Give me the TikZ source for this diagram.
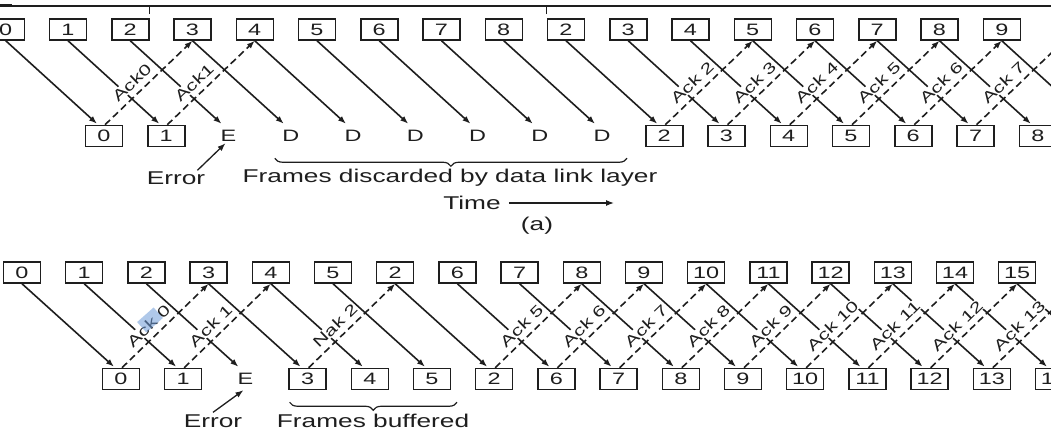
\documentclass[tikz,border=0pt]{standalone}
\usepackage{fontspec}
\setmainfont{Liberation Sans}[FakeStretch=1.42]
\usetikzlibrary{arrows.meta,calc,decorations.pathreplacing}
\definecolor{ink}{RGB}{30,30,30}
\definecolor{selblue}{RGB}{110,155,215}
\tikzset{
  slot/.style={draw=ink, line width=1.5pt, minimum width=37pt, minimum height=21pt,
    inner sep=0pt, text=ink, font=\fontsize{16.5}{19}\selectfont},
  dataarr/.style={line width=1.6pt, draw=ink, -{Latex[length=8pt,width=6pt]}},
  ackarr/.style={dataarr, dash pattern=on 7pt off 4pt},
  acklbl/.style={sloped, above=5.5pt, pos=0.40, fill=white, inner sep=0.6pt, text=ink,
    font=\fontsize{15}{17}\selectfont},
  note/.style={inner sep=0pt, text=ink, font=\fontsize{18.5}{21}\selectfont},
  bracedec/.style={line width=1.2pt, draw=ink,
    decorate, decoration={brace, mirror, amplitude=8pt}},
}
\begin{document}
\begin{tikzpicture}[x=1pt,y=-1pt]
\useasboundingbox (0,0) rectangle (1051,433);
\clip (0,0) rectangle (1051,433);

% ---------------- (a) go-back-n ----------------
\draw[line width=1.4pt, ink] (0,6) -- (1051,6);
\draw[line width=3pt, ink] (0,5.5) -- (12,5.5);
\coordinate (topline) at (0,6);

% sender frames
\foreach \l [count=\i from 0] in {0,1,2,3,4,5,6,7,8,2,3,4,5,6,7,8,9}
  \node[slot] (ta\i) at ({5.75+62.25*\i},29.5) {\l};
\node[slot, draw=none] (ta17) at ({5.75+62.25*17},29.5) {};

% receiver side
\foreach \l/\dc [count=\j from 0] in {0/ink,1/ink,E/none,D/none,D/none,D/none,D/none,D/none,D/none,2/ink,3/ink,4/ink,5/ink,6/ink,7/ink,8/ink}
  \node[slot, draw=\dc] (ba\j) at ({104+62.25*\j},136) {\l};
\node[slot, draw=none] (ba16) at ({104+62.25*16},136) {};

% timeout ticks
\draw[line width=1.4pt, ink] ($(ta2.north east)+(0,-4)$) -- (ta2.north east |- topline);
\draw[line width=1.4pt, ink] ($(ta9.north west)+(0,-4)$) -- (ta9.north west |- topline);

% frames in flight
\foreach \k in {0,...,16}
  \draw[dataarr] (ta\k.south) -- ($(ba\k.north)+(-7,-1)$);
% acknowledgements
\foreach \j/\t in {0/3,1/4,9/12,10/13,11/14,12/15,13/16,14/17}
  \draw[ackarr] ($(ba\j.north)+(1,0)$) -- (ta\t.south);
\foreach \j/\t/\lab in {0/3/Ack0,1/4/Ack1,9/12/Ack 2,10/13/Ack 3,11/14/Ack 4,12/15/Ack 5,13/16/Ack 6,14/17/Ack 7}
  \path ($(ba\j.north)+(1,0)$) -- node[acklbl] {\lab} (ta\t.south);

% annotations
\node[note] (erra) at (176,178) {Error};
\draw[dataarr, line width=1.3pt] ($(erra.north east)+(-8,-1)$) -- ($(ba2.south)+(-3,-4)$);
\draw[bracedec] ($(ba3.south)+(-16,11)$) -- ($(ba8.south)+(25,11)$);
\node[note] (disc) at (450,178) {Frames discarded by data link layer};
\node[note] (time) at (472,203) {Time};
\coordinate (timeend) at (614,203);
\draw[dataarr, line width=1.3pt] ([xshift=8pt]time.east) -- (timeend);
\node[note] (capa) at (537,226) {(a)};

% ---------------- (b) selective repeat ----------------
\foreach \l [count=\i from 0] in {0,1,2,3,4,5,2,6,7,8,9,10,11,12,13,14,15}
  \node[slot] (tb\i) at ({22+62.2*\i},272.5) {\l};
\node[slot, draw=none] (tb17) at ({22+62.2*17},272.5) {};

\foreach \l/\dc [count=\j from 0] in {0/ink,1/ink,E/none,3/ink,4/ink,5/ink,2/ink,6/ink,7/ink,8/ink,9/ink,10/ink,11/ink,12/ink,13/ink,14/ink}
  \node[slot, draw=\dc] (bb\j) at ({121+62.2*\j},379) {\l};
\node[slot, draw=none] (bb16) at ({121+62.2*16},379) {};

\foreach \k in {0,...,16}
  \draw[dataarr] (tb\k.south) -- ($(bb\k.north)+(-7,-1)$);
\foreach \j/\t in {0/3,1/4,3/6,6/9,7/10,8/11,9/12,10/13,11/14,12/15,13/16,14/17}
  \draw[ackarr] ($(bb\j.north)+(1,0)$) -- (tb\t.south);
\foreach \j/\t/\lab in {0/3/Ack 0,1/4/Ack 1,3/6/Nak 2,6/9/Ack 5,7/10/Ack 6,8/11/Ack 7,9/12/Ack 8,10/13/Ack 9,11/14/Ack 10,12/15/Ack 11,13/16/Ack 12,14/17/Ack 13}
  \path ($(bb\j.north)+(1,0)$) -- node[acklbl] {\lab} (tb\t.south);

% selection highlight over the first label
\fill[selblue, opacity=0.55, rotate around={41.5:(150,320)}] (139,313) rectangle (161,327);

\node[note] (errb) at (213,421) {Error};
\draw[dataarr, line width=1.3pt] ($(errb.north)+(0,-2)$) -- ($(bb2.south)+(-2,0)$);
\draw[bracedec] ($(bb3.south)+(-18,12)$) -- ($(bb5.south)+(25,12)$);
\node[note, align=center, anchor=north] (buf) at (373,414) {Frames buffered\\by data link layer};
\end{tikzpicture}
\end{document}
